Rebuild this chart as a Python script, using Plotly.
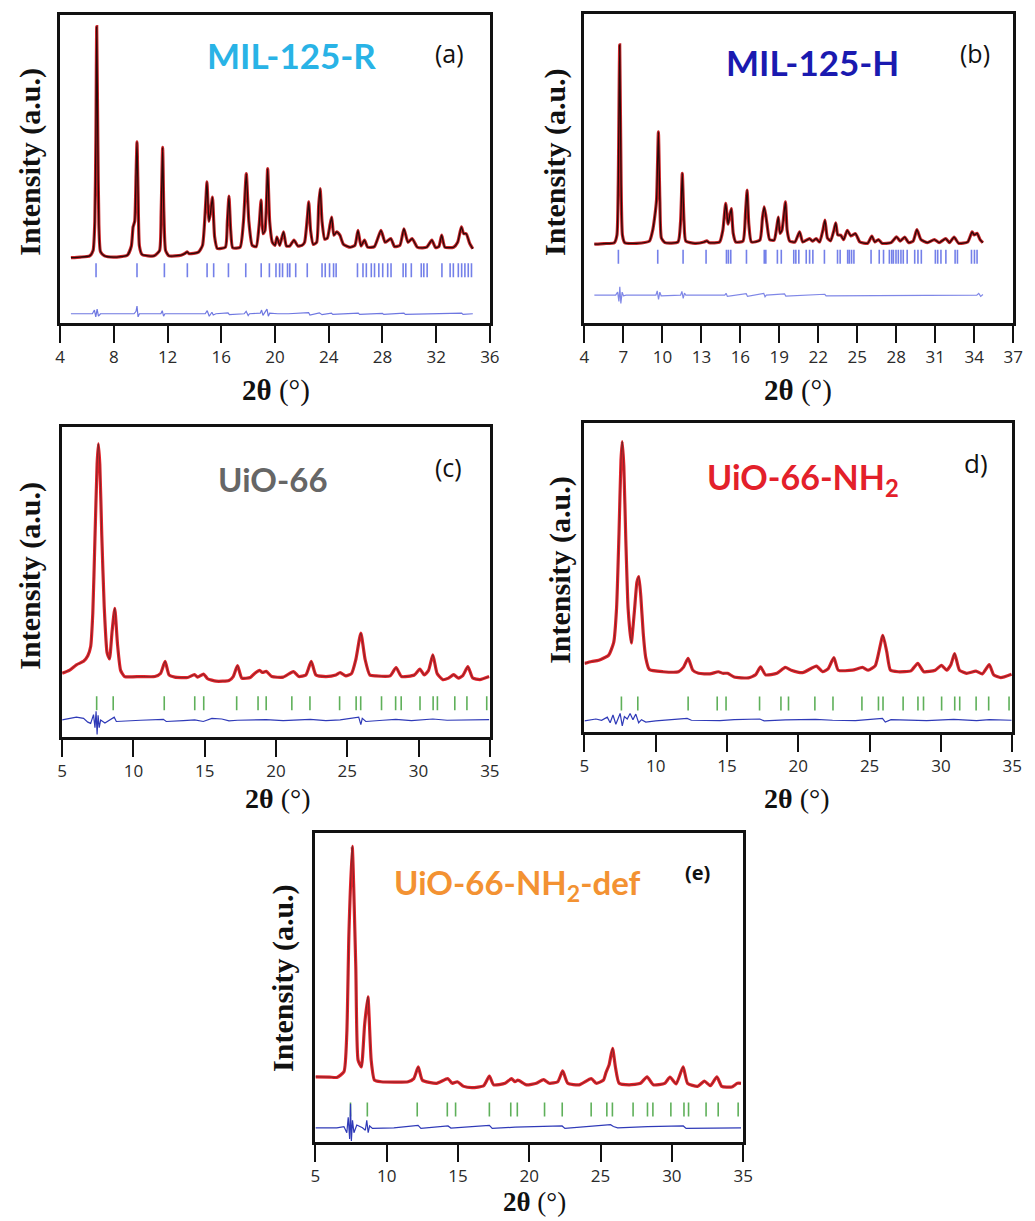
import plotly.graph_objects as go

# ---------------- data: 2-theta (deg) / intensity (a.u.) ----------------
# (a) MIL-125-R
a_obs_x = [4.8, 5.5, 6.2, 6.45, 6.58, 6.66, 6.72, 6.80, 6.88, 7.0, 7.3, 8.0, 9.0, 9.3, 9.43, 9.55, 9.65, 9.72, 9.8, 9.9,
           10.1, 11.0, 11.4, 11.52, 11.63, 11.72, 11.85, 12.1, 13.0, 13.3, 13.46, 13.6, 14.3, 14.6, 14.85, 14.93, 15.08,
           15.2, 15.34, 15.5, 15.7, 16.3, 16.45, 16.57, 16.7, 16.85, 17.4, 17.65, 17.86, 18.05, 18.3, 18.6, 18.82, 18.96,
           19.1, 19.25, 19.45, 19.6, 19.8, 20.0, 20.14, 20.35, 20.63, 20.85, 21.1, 21.41, 21.7, 22.0, 22.2, 22.4, 22.51,
           22.65, 22.85, 23.1, 23.25, 23.36, 23.5, 23.7, 23.9, 24.1, 24.22, 24.38, 24.59, 24.83, 25.1, 25.6, 25.95, 26.18,
           26.4, 26.66, 26.9, 27.4, 27.89, 28.2, 28.62, 28.9, 29.3, 29.6, 29.9, 30.21, 30.6, 31.0, 31.3, 31.68, 31.95,
           32.2, 32.41, 32.65, 33.3, 33.6, 33.88, 34.05, 34.24, 34.5, 34.73]
a_obs_y = [212, 214, 218, 235, 330, 600, 962, 600, 320, 232, 218, 214, 220, 250, 312, 330, 480, 588, 420, 250,
           222, 218, 235, 360, 570, 360, 235, 218, 220, 226, 231, 225, 230, 252, 400, 458, 330,
           360, 409, 280, 242, 246, 330, 412, 300, 244, 246, 330, 485, 330, 252, 248, 320, 399,
           290, 300, 501, 330, 262, 252, 279, 252, 296, 250, 250, 269, 250, 252, 262, 340, 393,
           300, 255, 262, 380, 436, 330, 272, 276, 320, 344, 285, 296, 285, 255, 246, 252, 301,
           250, 269, 246, 248, 301, 262, 274, 248, 252, 306, 262, 274, 246, 244, 246, 269, 245,
           248, 285, 246, 246, 262, 312, 290, 290, 258, 241]
a_dif_x = [4.8, 6.4, 6.55, 6.65, 6.75, 6.85, 7.0, 8.0, 8.3, 9.5, 9.65, 9.72, 9.8, 9.9, 10.5, 11.5, 11.6, 11.7, 11.8,
           13.4, 13.5, 14.8, 14.95, 15.1, 15.3, 15.4, 15.6, 16.5, 16.6, 17.7, 17.85, 18.0, 18.1, 18.9, 19.0, 19.1, 19.4,
           19.5, 19.6, 20.2, 21.0, 22.5, 22.6, 23.3, 23.5, 24.2, 24.3, 26.2, 26.3, 28.0, 28.1, 29.6, 29.7, 31.5, 33.9,
           34.0, 34.73]
a_dif_y = [30, 30, 42, 20, 45, 22, 30, 30, 28, 30, 38, 55, 20, 30, 30, 30, 40, 22, 30,
           30, 28, 30, 40, 22, 35, 26, 30, 33, 27, 30, 38, 24, 30, 32, 42, 25, 45,
           22, 32, 30, 30, 34, 26, 33, 27, 32, 28, 32, 28, 31, 28, 32, 28, 30, 32,
           28, 30]
a_ticks = [6.67, 9.72, 11.76, 13.47, 14.94, 15.43, 16.53, 17.82, 18.97, 19.58, 20.07, 20.34, 20.56, 20.93, 21.1,
           21.54, 22.4, 23.5, 23.74, 24.06, 24.36, 24.55, 26.14, 26.55, 26.8, 27.17, 27.41, 27.73, 28.02, 28.39,
           28.64, 29.54, 29.74, 30.15, 30.89, 31.08, 31.33, 32.43, 33.04, 33.28, 33.65, 33.9, 34.14, 34.39, 34.63]

# (b) MIL-125-H
b_obs_x = [4.76, 5.5, 6.3, 6.5, 6.6, 6.71, 6.82, 6.92, 7.1, 8.0, 9.0, 9.25, 9.39, 9.55, 9.69, 9.8, 9.92, 10.2, 11.2,
           11.4, 11.53, 11.66, 11.8, 12.5, 13.2, 13.41, 13.6, 14.4, 14.65, 14.87, 15.05, 15.15, 15.3, 15.45, 15.65,
           16.2, 16.4, 16.52, 16.65, 16.85, 17.5, 17.7, 17.83, 17.95, 18.05, 18.25, 18.6, 18.8, 18.92, 19.05, 19.2,
           19.47, 19.6, 19.8, 20.2, 20.56, 20.8, 21.32, 21.55, 21.83, 22.1, 22.35, 22.51, 22.7, 22.95, 23.2, 23.34,
           23.5, 23.72, 23.95, 24.23, 24.5, 24.86, 25.2, 25.8, 26.12, 26.35, 26.63, 26.9, 27.6, 28.02, 28.3, 28.65,
           28.95, 29.3, 29.59, 29.9, 30.4, 30.93, 31.3, 31.81, 32.1, 32.45, 32.8, 33.5, 33.84, 34.0, 34.22, 34.45,
           34.67]
b_obs_y = [255, 257, 260, 285, 450, 900, 450, 285, 260, 258, 265, 300, 338, 400, 619, 400, 275, 260, 262,
           330, 484, 330, 265, 258, 262, 266, 260, 262, 300, 387, 320, 340, 370, 290, 262,
           265, 360, 430, 320, 262, 268, 340, 376, 350, 320, 270, 268, 310, 343, 290, 300,
           392, 300, 265, 262, 295, 262, 273, 265, 273, 262, 300, 333, 275, 266, 300, 324,
           285, 284, 270, 300, 282, 289, 262, 258, 281, 262, 270, 258, 260, 279, 265, 278,
           260, 265, 302, 270, 260, 270, 260, 273, 260, 278, 258, 262, 295, 285, 290, 270,
           260]
b_dif_x = [4.76, 6.4, 6.55, 6.65, 6.72, 6.8, 6.9, 7.0, 7.2, 9.5, 9.6, 9.7, 9.8, 9.9, 11.4, 11.5, 11.6, 11.7, 11.8,
           14.8, 14.9, 15.0, 16.45, 16.55, 17.8, 17.9, 18.0, 19.4, 19.5, 22.5, 22.6, 34.2, 34.35, 34.5, 34.67]
b_dif_y = [90, 90, 100, 70, 117, 63, 100, 88, 90, 90, 104, 76, 100, 88, 90, 102, 80, 97, 90,
           90, 96, 86, 95, 86, 96, 85, 90, 94, 87, 93, 88, 90, 96, 86, 92]
b_ticks = [6.61, 9.64, 11.59, 13.36, 14.93, 15.08, 15.26, 16.47, 17.84, 17.96, 18.85, 19.15, 20.11, 20.27, 20.5,
           21.07, 21.33, 21.58, 22.47, 23.48, 23.68, 24.26, 24.39, 24.56, 24.74, 26.06, 26.69, 27.02, 27.47, 27.65,
           27.78, 27.98, 28.16, 28.36, 28.54, 28.84, 29.42, 29.67, 29.93, 31.01, 31.19, 31.44, 31.82, 32.53, 32.71,
           33.79, 34.02, 34.22]

# (c) UiO-66
c_obs_x = [5.0, 5.5, 6.0, 6.5, 6.8, 7.0, 7.15, 7.3, 7.45, 7.54, 7.64, 7.78, 7.95, 8.15, 8.32, 8.5, 8.69, 8.88, 9.1,
           9.38, 10.5, 11.5, 11.9, 12.22, 12.5, 12.9, 13.8, 14.28, 14.5, 14.92, 15.2, 15.8, 16.7, 17.0, 17.3, 17.6,
           18.2, 18.5, 18.85, 19.05, 19.31, 19.7, 20.5, 21.22, 21.6, 22.1, 22.47, 22.8, 23.5, 24.2, 24.5, 24.9, 25.3,
           25.6, 25.95, 26.25, 26.58, 27.0, 28.0, 28.42, 28.8, 29.7, 30.09, 30.4, 30.7, 31.0, 31.3, 31.7, 32.1, 32.46,
           32.8, 33.1, 33.46, 33.8, 34.3, 34.95]
c_obs_y = [206, 215, 233, 244, 262, 292, 400, 640, 880, 946, 880, 650, 420, 272, 252, 340, 415, 300, 215,
           195, 195, 195, 205, 244, 200, 193, 192, 201, 193, 203, 188, 180, 182, 195, 230, 190,
           192, 205, 215, 208, 212, 195, 193, 211, 195, 200, 244, 200, 195, 200, 208, 197, 205,
           250, 335, 250, 200, 197, 197, 224, 195, 200, 219, 200, 215, 265, 205, 185, 190, 201,
           190, 198, 227, 190, 185, 195]
c_dif_x = [5.0, 5.5, 6.0, 6.5, 6.8, 7.0, 7.2, 7.3, 7.38, 7.45, 7.52, 7.6, 7.7, 8.0, 8.5, 8.65, 8.8, 9.5, 10.5, 12.1,
           12.3, 13.5, 14.3, 14.9, 15.5, 16.2, 16.7, 17.3, 18.5, 19.3, 20.5, 22.4, 23.5, 24.5, 25.8, 25.95, 26.05,
           26.3, 27.5, 28.4, 29.5, 31.0, 32.0, 33.4, 34.95]
c_dif_y = [55, 60, 64, 60, 48, 44, 72, 30, 83, 8, 70, 30, 55, 45, 58, 64, 50, 52, 54, 57,
           50, 53, 55, 50, 60, 58, 52, 54, 55, 56, 53, 57, 53, 55, 64, 40, 60,
           50, 54, 57, 53, 58, 54, 56, 56]
c_ticks = [7.42, 8.58, 12.16, 14.3, 14.93, 17.24, 18.74, 19.31, 21.11, 22.38, 24.46, 25.62, 25.94, 27.4, 28.39,
           28.78, 30.1, 31.02, 31.32, 32.54, 33.39, 34.78]

# (d) UiO-66-NH2
d_obs_x = [5.0, 5.5, 6.0, 6.7, 7.05, 7.25, 7.42, 7.56, 7.65, 7.76, 7.9, 8.06, 8.28, 8.5, 8.68, 8.81, 8.95, 9.12,
           9.3, 9.55, 10.5, 11.6, 11.95, 12.27, 12.6, 13.0, 13.8, 14.39, 14.7, 15.04, 15.5, 16.5, 17.0, 17.35, 17.7,
           18.5, 19.08, 19.5, 20.3, 21.27, 21.7, 22.1, 22.49, 22.8, 23.8, 24.5, 24.9, 25.4, 25.93, 26.2, 26.46, 27.0,
           27.9, 28.38, 28.8, 29.6, 30.04, 30.4, 30.7, 30.96, 31.3, 31.8, 32.46, 32.9, 33.39, 33.7, 34.2, 34.95]
d_obs_y = [222, 228, 232, 249, 290, 400, 640, 880, 940, 860, 620, 400, 288, 390, 485, 503, 440, 320,
           240, 202, 195, 195, 210, 238, 200, 190, 188, 195, 190, 190, 178, 175, 185, 211, 185,
           190, 209, 200, 192, 213, 195, 205, 241, 200, 200, 209, 200, 215, 313, 260, 200, 195,
           198, 222, 195, 200, 216, 200, 218, 254, 200, 190, 197, 188, 218, 185, 176, 187]
d_dif_x = [5.0, 5.8, 6.2, 6.6, 6.8, 7.0, 7.2, 7.5, 7.65, 7.8, 8.0, 8.2, 8.4, 8.6, 8.8, 9.0, 9.3, 10.0, 12.2, 12.5,
           14.5, 15.5, 17.3, 17.6, 19.1, 21.2, 22.4, 24.0, 25.9, 26.1, 26.5, 28.4, 29.0, 30.9, 32.5, 33.4, 34.95]
d_dif_y = [36, 42, 38, 48, 30, 55, 25, 60, 20, 50, 42, 60, 40, 58, 30, 40, 32, 36, 44, 38,
           37, 40, 42, 36, 39, 41, 38, 37, 44, 32, 40, 39, 37, 41, 37, 40, 38]
d_ticks = [7.59, 8.74, 12.27, 14.31, 14.93, 17.28, 18.78, 19.31, 21.16, 22.43, 24.46, 25.62, 25.94, 27.35, 28.39,
           28.78, 30.05, 30.97, 31.32, 32.47, 33.35, 34.78]

# (e) UiO-66-NH2-def
e_obs_x = [5.0, 6.0, 6.5, 7.0, 7.2, 7.35, 7.58, 7.83, 7.99, 8.22, 8.45, 8.68, 8.91, 9.14, 9.6, 11.5, 11.9, 12.21,
           12.5, 13.5, 14.28, 14.6, 14.95, 15.4, 16.0, 16.8, 17.2, 17.5, 18.3, 18.75, 19.0, 19.2, 19.8, 20.5, 21.0,
           21.4, 22.0, 22.34, 22.7, 23.5, 24.34, 24.7, 25.2, 25.38, 25.6, 25.84, 26.05, 26.3, 27.0, 27.8, 28.26, 28.7,
           29.5, 29.87, 30.3, 30.79, 31.1, 31.8, 32.28, 32.7, 33.16, 33.5, 34.2, 34.6, 34.85]
e_obs_y = [211, 210, 209, 227, 351, 676, 957, 568, 265, 243, 380, 470, 265, 200, 195, 195, 205, 243,
           200, 190, 205, 190, 195, 180, 176, 182, 213, 185, 190, 205, 195, 200, 185, 190, 202,
           190, 195, 230, 190, 185, 205, 190, 200, 225, 250, 303, 240, 190, 185, 190, 211, 185,
           190, 210, 188, 243, 190, 180, 197, 182, 211, 180, 178, 190, 190]
e_dif_x = [5.0, 6.5, 7.0, 7.2, 7.3, 7.4, 7.46, 7.52, 7.6, 7.7, 7.9, 8.3, 8.5, 8.6, 8.7, 8.8, 9.0, 10.5, 12.2, 12.4,
           14.3, 14.5, 17.2, 17.4, 19.0, 22.3, 22.5, 25.7, 25.9, 26.2, 28.3, 30.8, 31.0, 34.85]
e_dif_y = [46, 46, 50, 30, 80, 10, 124, 3, 70, 30, 55, 46, 38, 70, 30, 52, 44, 46, 54, 44,
           52, 45, 54, 44, 48, 52, 44, 56, 50, 46, 50, 52, 44, 46]
e_ticks = [7.46, 8.64, 12.14, 14.25, 14.83, 17.2, 18.7, 19.16, 21.07, 22.31, 24.34, 25.44, 25.83, 27.28, 28.29,
           28.67, 29.93, 30.85, 31.17, 32.4, 33.25, 34.65]

# ---------------- layout helpers ----------------
W, H = 1035, 1221


def px(x):
    return x / W


def py(y):
    return 1 - y / H


panels = [
    dict(box=(56, 15, 492, 323), xr=[4, 36], tv=list(range(4, 37, 4)),
         obs=(a_obs_x, a_obs_y), dif=(a_dif_x, a_dif_y), ticks=a_ticks, tick_y=171,
         tick_col="rgba(70,85,225,0.75)", obs_col="#c8262a", calc_col="#2a0808", calc_w=1.3,
         dif_col="rgba(85,95,220,0.85)",
         label="MIL-125-R", label_col="#29b3e6", label_pos=(291, 55), label_size=35,
         letter="(a)", letter_pos=(451, 53), letter_size=25,
         ytitle_pos=(25, 162), xtitle_pos=(275, 390), xtitle_size=29),
    dict(box=(588, 14, 1023, 323), xr=[4, 37], tv=list(range(4, 38, 3)),
         obs=(b_obs_x, b_obs_y), dif=(b_dif_x, b_dif_y), ticks=b_ticks, tick_y=214,
         tick_col="rgba(70,85,225,0.75)", obs_col="#c8262a", calc_col="#2a0808", calc_w=1.3,
         dif_col="rgba(95,105,225,0.8)",
         label="MIL-125-H", label_col="#1a1ab0", label_pos=(819, 62), label_size=35,
         letter="(b)", letter_pos=(984, 53), letter_size=25,
         ytitle_pos=(558, 162), xtitle_pos=(805, 390), xtitle_size=29),
    dict(box=(58, 427, 492, 737), xr=[5, 35], tv=list(range(5, 36, 5)),
         obs=(c_obs_x, c_obs_y), dif=(c_dif_x, c_dif_y), ticks=c_ticks, tick_y=109,
         tick_col="#5fb05a", obs_col="#e3232b", calc_col="rgba(60,40,40,0.75)", calc_w=0.8,
         dif_col="#2f3ab8",
         label="UiO-66", label_col="#666666", label_pos=(272, 479), label_size=33,
         letter="(c)", letter_pos=(450, 467), letter_size=25,
         ytitle_pos=(25, 576), xtitle_pos=(277, 798), xtitle_size=28),
    dict(box=(588, 423, 1022, 732), xr=[5, 35], tv=list(range(5, 36, 5)),
         obs=(d_obs_x, d_obs_y), dif=(d_dif_x, d_dif_y), ticks=d_ticks, tick_y=92,
         tick_col="#5fb05a", obs_col="#e3232b", calc_col="rgba(60,40,40,0.75)", calc_w=0.8,
         dif_col="#2f3ab8",
         label="UiO-66-NH<sub>2</sub>", label_col="#e3202a", label_pos=(810, 479), label_size=34,
         letter="d)", letter_pos=(985, 463), letter_size=26,
         ytitle_pos=(563, 570), xtitle_pos=(803, 798), xtitle_size=28),
    dict(box=(315, 833, 749, 1142), xr=[5, 35], tv=list(range(5, 36, 5)),
         obs=(e_obs_x, e_obs_y), dif=(e_dif_x, e_dif_y), ticks=e_ticks, tick_y=105,
         tick_col="#5fb05a", obs_col="#e3232b", calc_col="rgba(60,40,40,0.75)", calc_w=0.8,
         dif_col="#2f3ab8",
         label="UiO-66-NH<sub>2</sub>-def", label_col="#f39232", label_pos=(520, 884), label_size=33,
         letter="<b>(e)</b>", letter_pos=(703, 872), letter_size=20,
         ytitle_pos=(282, 978), xtitle_pos=(537, 1202), xtitle_size=27),
]

fig = go.Figure()
annotations = []
layout = {}

for i, p in enumerate(panels, start=1):
    sfx = "" if i == 1 else str(i)
    xa, ya = "x" + sfx, "y" + sfx
    left, top, right, bottom = p["box"]

    # observed (thick red) + calculated (thin dark) profile
    fig.add_trace(go.Scatter(x=p["obs"][0], y=p["obs"][1], mode="lines",
                             line=dict(color=p["obs_col"], width=3.2, shape="spline", smoothing=0.5),
                             xaxis=xa, yaxis=ya, hoverinfo="skip"))
    fig.add_trace(go.Scatter(x=p["obs"][0], y=p["obs"][1], mode="lines",
                             line=dict(color=p["calc_col"], width=p["calc_w"], shape="spline", smoothing=0.5),
                             xaxis=xa, yaxis=ya, hoverinfo="skip"))
    # Bragg positions
    fig.add_trace(go.Scatter(x=p["ticks"], y=[p["tick_y"]] * len(p["ticks"]), mode="markers",
                             marker=dict(symbol="line-ns", size=10, line=dict(color=p["tick_col"], width=1.6)),
                             xaxis=xa, yaxis=ya, hoverinfo="skip"))
    # difference curve
    fig.add_trace(go.Scatter(x=p["dif"][0], y=p["dif"][1], mode="lines",
                             line=dict(color=p["dif_col"], width=1.2), xaxis=xa, yaxis=ya, hoverinfo="skip"))

    layout["xaxis" + sfx] = dict(
        domain=[px(left), px(right)], range=p["xr"], anchor=ya,
        tickmode="array", tickvals=p["tv"], ticks="outside", ticklen=17, tickwidth=2, tickcolor="#111",
        showline=True, mirror=True, linewidth=3, linecolor="#111", showgrid=False, zeroline=False,
        tickfont=dict(family="Open Sans", size=17, color="#2a2a2a"),
    )
    layout["yaxis" + sfx] = dict(
        domain=[py(bottom), py(top)], range=[0, 1000], anchor=xa,
        showticklabels=False, ticks="", showline=True, mirror=True, linewidth=3, linecolor="#111",
        showgrid=False, zeroline=False,
    )

    lx, ly = p["label_pos"]
    annotations.append(dict(text="<b>%s</b>" % p["label"], x=px(lx), y=py(ly), xref="paper", yref="paper",
                            showarrow=False, xanchor="center", yanchor="middle",
                            font=dict(family="Lato", size=p["label_size"], color=p["label_col"])))
    tx, ty = p["letter_pos"]
    annotations.append(dict(text=p["letter"], x=px(tx), y=py(ty), xref="paper", yref="paper",
                            showarrow=False, xanchor="center", yanchor="middle",
                            font=dict(family="Open Sans", size=p["letter_size"], color="#111")))
    yx, yy = p["ytitle_pos"]
    annotations.append(dict(text="<b>Intensity (a.u.)</b>", x=px(yx), y=py(yy), xref="paper", yref="paper",
                            showarrow=False, textangle=-90, xanchor="center", yanchor="middle",
                            font=dict(family="Liberation Serif", size=30, color="#111")))
    xx, xy = p["xtitle_pos"]
    annotations.append(dict(text="<b>2θ</b> (°)", x=px(xx), y=py(xy), xref="paper", yref="paper",
                            showarrow=False, xanchor="center", yanchor="middle",
                            font=dict(family="Liberation Serif", size=p["xtitle_size"], color="#111")))

fig.update_layout(
    width=W, height=H, margin=dict(l=0, r=0, t=0, b=0),
    paper_bgcolor="white", plot_bgcolor="white", showlegend=False,
    annotations=annotations, **layout,
)

fig.write_html("out.html")
